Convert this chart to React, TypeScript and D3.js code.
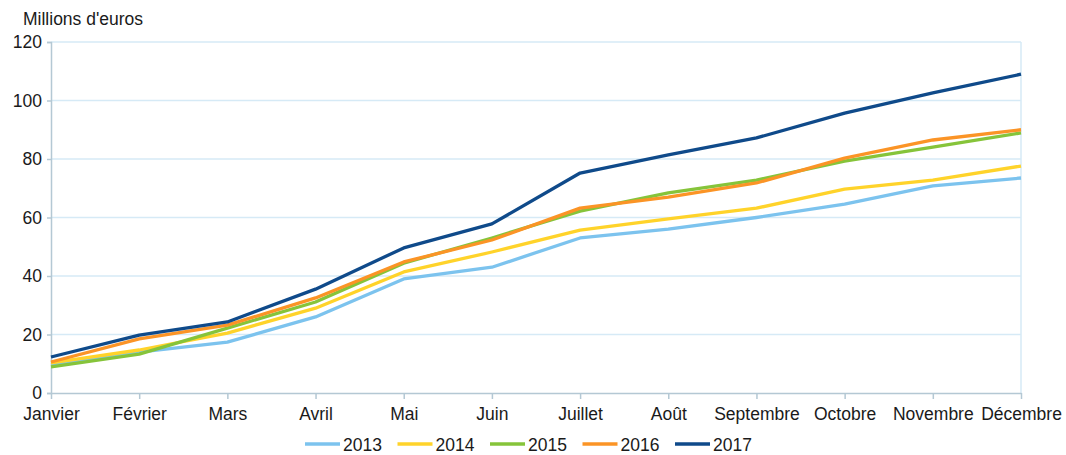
import React, { useEffect, useRef } from "react";
import * as d3 from "d3";

// chart values
const months = ["Janvier", "Février", "Mars", "Avril", "Mai", "Juin", "Juillet", "Août", "Septembre", "Octobre", "Novembre", "Décembre"];
const yTicks = [0, 20, 40, 60, 80, 100, 120];
const years = ["2013", "2014", "2015", "2016", "2017"];
const colors = ["#7cc3ee", "#ffd32a", "#86c43a", "#fb9426", "#0f4a8a"];

const v2013 = [9.6, 14, 17.4, 26, 39, 43, 53, 56, 60, 64.6, 70.8, 73.5];
const v2014 = [10.3, 14.7, 20.5, 29, 41.4, 48.2, 55.7, 59.5, 63.2, 69.7, 72.8, 77.6];
const v2015 = [8.9, 13.3, 22.2, 31.1, 44.4, 53, 62.2, 68.4, 72.8, 79.3, 84.1, 88.9];
const v2016 = [10.6, 18.5, 23.2, 32.5, 44.8, 52.3, 63.2, 67, 71.8, 80.3, 86.5, 90];
const v2017 = [12.3, 19.8, 24.3, 35.5, 49.6, 57.8, 75.2, 81.4, 87.2, 95.7, 102.6, 109];
const seriesValues = [v2013, v2014, v2015, v2016, v2017];

export default function App() {
  const ref = useRef<SVGSVGElement>(null);

  useEffect(() => {
    const svg = d3.select(ref.current);
    svg.selectAll("*").remove();

    const left = 51, right = 1021, top = 42, bottom = 393;
    const font = "'Liberation Sans', Arial, sans-serif";
    const fs = 17.5;

    const x = d3.scalePoint<string>().domain(months).range([left, right]);
    const y = d3.scaleLinear().domain([0, 120]).range([bottom, top]);

    // grid
    svg.append("g")
      .selectAll("line")
      .data(yTicks.filter(t => t > 0))
      .enter()
      .append("line")
      .attr("x1", left)
      .attr("x2", right)
      .attr("y1", d => y(d))
      .attr("y2", d => y(d))
      .attr("stroke", "#d6eaf6")
      .attr("stroke-width", 1.5);

    // right border
    svg.append("line")
      .attr("x1", right).attr("x2", right)
      .attr("y1", top).attr("y2", bottom)
      .attr("stroke", "#d6eaf6").attr("stroke-width", 1.5);

    // y axis
    const yAxis = svg.append("g")
      .attr("transform", "translate(" + left + ",0)")
      .call(d3.axisLeft(y).tickValues(yTicks).tickSize(4).tickPadding(5));
    yAxis.select(".domain").attr("stroke", "#b4c8d4").attr("stroke-width", 1.5);
    yAxis.selectAll(".tick line").attr("stroke", "#b4c8d4").attr("stroke-width", 1.5);
    yAxis.selectAll("text")
      .attr("font-family", font)
      .attr("font-size", fs)
      .attr("fill", "#1a1a1a");

    // x axis
    const xAxis = svg.append("g")
      .attr("transform", "translate(0," + bottom + ")")
      .call(d3.axisBottom(x).tickSize(6).tickSizeOuter(0).tickPadding(9));
    xAxis.select(".domain").attr("stroke", "#b4c8d4").attr("stroke-width", 1.5);
    xAxis.selectAll(".tick line").attr("stroke", "#b4c8d4").attr("stroke-width", 1.5);
    xAxis.selectAll("text")
      .attr("font-family", font)
      .attr("font-size", fs)
      .attr("fill", "#1a1a1a");

    // axis title
    svg.append("text")
      .attr("x", 23)
      .attr("y", 25)
      .attr("font-family", font)
      .attr("font-size", fs)
      .attr("fill", "#1a1a1a")
      .text("Millions d'euros");

    // lines
    const line = d3.line<number>()
      .x((d, i) => x(months[i]) as number)
      .y(d => y(d));

    seriesValues.forEach((vals, i) => {
      svg.append("path")
        .datum(vals)
        .attr("d", line)
        .attr("fill", "none")
        .attr("stroke", colors[i])
        .attr("stroke-width", 3.3)
        .attr("stroke-linejoin", "round");
    });

    // legend
    const legend = svg.append("g").attr("transform", "translate(305,444)");
    years.forEach((yr, i) => {
      const g = legend.append("g").attr("transform", "translate(" + i * 92.5 + ",0)");
      g.append("line")
        .attr("x1", 0).attr("x2", 35)
        .attr("y1", 0).attr("y2", 0)
        .attr("stroke", colors[i])
        .attr("stroke-width", 3.3);
      g.append("text")
        .attr("x", 38)
        .attr("y", 6.5)
        .attr("font-family", font)
        .attr("font-size", fs)
        .attr("fill", "#1a1a1a")
        .text(yr);
    });
  }, []);

  return (
    <svg ref={ref} width={1066} height={455} style={{ position: "absolute", left: 0, top: 0, background: "#fff" }} />
  );
}
